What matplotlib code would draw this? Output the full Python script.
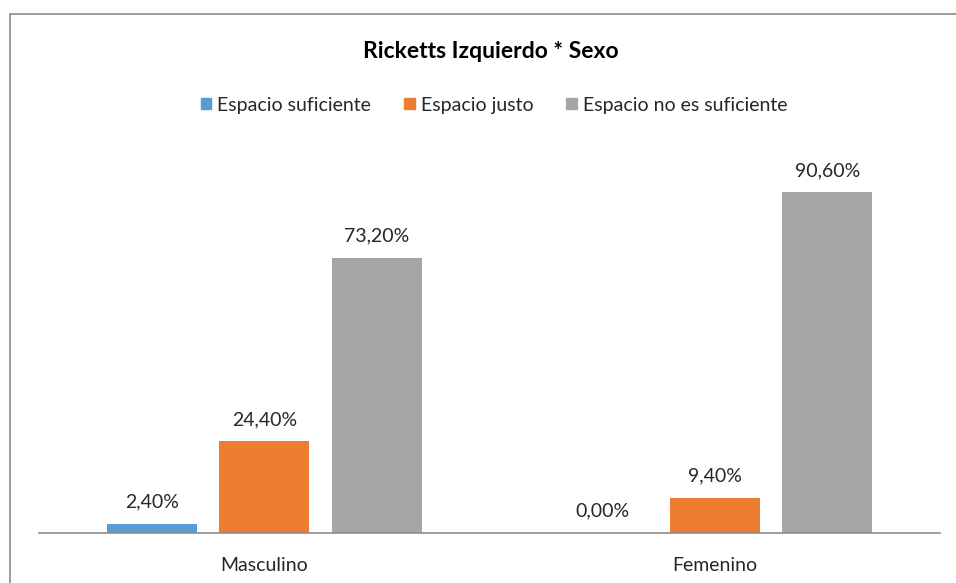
import matplotlib
matplotlib.use('Agg')
import matplotlib.pyplot as plt
import matplotlib.patches as mpatches
import numpy as np

# Data
groups = ['Masculino', 'Femenino']
series = ['Espacio suficiente', 'Espacio justo', 'Espacio no es suficiente']
suficiente = [2.4, 0.0]
justo = [24.4, 9.4]
no_suficiente = [73.2, 90.6]
values = [suficiente, justo, no_suficiente]
colors = ['#5B9BD5', '#ED7D31', '#A5A5A5']

plt.rcParams['font.family'] = ['Lato', 'DejaVu Sans']
W, H = 956, 583
fig = plt.figure(figsize=(W / 100, H / 100), dpi=100)
fig.patch.set_facecolor('white')

# outer chart border (only left/top visible in the crop)
border = mpatches.Rectangle((10 / W, -0.2), 1.2, 1.2 - 14 / H, transform=fig.transFigure,
                            fill=False, edgecolor='#8c8c8c', linewidth=1.2, clip_on=False)
fig.patches.append(border)

ax = fig.add_axes([39 / W, (H - 533) / H, 901 / W, 376 / H])
x = np.arange(len(groups))
width = 0.2
offsets = [-0.25, 0, 0.25]
for vals, off, col, name in zip(values, offsets, colors, series):
    bars = ax.bar(x + off, vals, width, color=col, label=name)
    for b, v in zip(bars, vals):
        ax.text(b.get_x() + b.get_width() / 2, v + 5.8, f'{v:.2f}'.replace('.', ',') + '%',
                ha='center', va='center', fontsize=14, color='#262626')

ax.set_xlim(-0.5, 1.5)
ax.set_ylim(0, 100)
ax.set_yticks([])
ax.set_xticks(x)
ax.set_xticklabels(groups, fontsize=14, color='#262626')
ax.tick_params(axis='x', length=0, pad=17)
for s in ['top', 'right', 'left']:
    ax.spines[s].set_visible(False)
ax.spines['bottom'].set_color('#8c8c8c')
ax.spines['bottom'].set_linewidth(1.2)

fig.text(491 / W, 1 - 52 / H, 'Ricketts Izquierdo * Sexo', ha='center', va='center',
         fontsize=16.5, fontweight='bold', color='#000000')

handles = [mpatches.Patch(color=c, label=n) for c, n in zip(colors, series)]
fig.legend(handles=handles, loc='center', bbox_to_anchor=(494 / W, 1 - 105 / H), ncol=3,
           frameon=False, fontsize=14, handlelength=0.55, handleheight=0.55,
           handletextpad=0.3, columnspacing=1.7, labelcolor='#262626')

fig.savefig('out.png', dpi=100, facecolor='white')
